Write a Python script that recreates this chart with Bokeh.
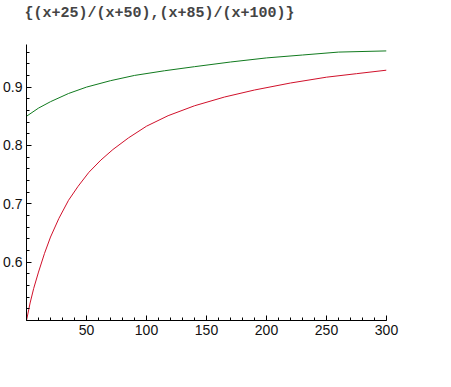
from bokeh.plotting import figure
from bokeh.embed import file_html
from bokeh.resources import INLINE
from bokeh.models import Range1d, FixedTicker, Title

title_text = "{(x+25)/(x+50),(x+85)/(x+100)}"

red_x = [0, 3, 6, 10, 15, 20, 27, 35, 43, 52, 62, 72, 85, 100, 118, 140, 165, 190, 220, 250, 275, 300]
red_y = [0.500, 0.530, 0.555, 0.583, 0.615, 0.643, 0.675, 0.706, 0.730, 0.754, 0.775, 0.793,
         0.813, 0.833, 0.851, 0.868, 0.883, 0.895, 0.907, 0.917, 0.923, 0.929]

green_x = [0, 10, 20, 35, 50, 70, 90, 115, 140, 170, 200, 230, 260, 300]
green_y = [0.850, 0.864, 0.875, 0.889, 0.900, 0.911, 0.920, 0.928, 0.935, 0.943, 0.950, 0.955, 0.960, 0.962]

x_major = [50, 100, 150, 200, 250, 300]
x_minor = list(range(0, 301, 10))
y_major = [0.6, 0.7, 0.8, 0.9]
y_minor = [round(0.5 + 0.02 * i, 2) for i in range(0, 24)]

p = figure(frame_width=360, frame_height=276, output_backend="svg", toolbar_location=None,
           x_range=Range1d(0, 300), y_range=Range1d(0.5, 0.973),
           min_border_left=21, min_border_right=40, min_border_top=0, min_border_bottom=0)

# spacer nearest the frame, then the real title above it
p.add_layout(Title(text=" ", text_font_size="10px", standoff=8), "above")
p.add_layout(Title(text=title_text, text_font="Liberation Mono", text_font_style="bold",
                   text_font_size="15px", align="left", offset=-2, standoff=4), "above")

p.line(red_x, red_y, line_color="#d0102a", line_width=1)
p.line(green_x, green_y, line_color="#107a1e", line_width=1)

p.xgrid.visible = False
p.ygrid.visible = False
p.outline_line_color = None
p.background_fill_color = "white"
p.border_fill_color = "white"

p.xaxis.ticker = FixedTicker(ticks=x_major, minor_ticks=x_minor)
p.yaxis.ticker = FixedTicker(ticks=y_major, minor_ticks=y_minor)
for ax in (p.xaxis[0], p.yaxis[0]):
    ax.major_tick_in = 5
    ax.major_tick_out = 0
    ax.minor_tick_in = 3
    ax.minor_tick_out = 0
    ax.axis_line_color = "black"
    ax.major_tick_line_color = "black"
    ax.minor_tick_line_color = "black"
    ax.major_label_text_font = "Liberation Sans"
    ax.major_label_text_font_size = "14px"
    ax.major_label_text_color = "#111111"
    ax.major_label_standoff = 4

open("out.html", "w").write(file_html(p, INLINE))
